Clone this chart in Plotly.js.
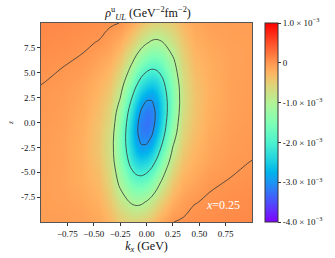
<!DOCTYPE html>
<html>
<head>
<meta charset="utf-8">
<script src="https://cdn.plot.ly/plotly-3.0.1.min.js"></script>
<style>html,body{margin:0;padding:0;background:#fff;}#plot{width:335px;height:258px;}</style>
</head>
<body>
<div id="plot"></div>
<script>
// kx grid (GeV)
var kx = [-1, -0.8, -0.6, -0.45, -0.35, -0.25, -0.15, -0.1, -0.05, 0, 0.05, 0.1, 0.15, 0.25, 0.35, 0.45, 0.6, 0.8, 1];
// z grid
var zt = [-10, -8, -6, -4, -3, -2, -1, 0, 1, 2, 3, 4, 6, 8, 10];
// rho values in units of 1e-3 GeV^-2 fm^-2, one row per z value
var rhoRows = [
  [-0.07,-0.07,-0.09,-0.15,-0.27,-0.45,-0.56,-0.56,-0.52,-0.45,-0.35,-0.24,-0.15,-0.003,0.025,0.045,0.065,0.09,0.10],
  [-0.08,-0.09,-0.14,-0.23,-0.43,-0.76,-1.03,-1.09,-1.07,-0.97,-0.82,-0.64,-0.47,-0.20,-0.08,-0.008,0.02,0.05,0.07],
  [-0.07,-0.11,-0.19,-0.31,-0.59,-1.11,-1.61,-1.74,-1.76,-1.66,-1.46,-1.19,-0.91,-0.44,-0.22,-0.13,-0.02,0.01,0.03],
  [-0.06,-0.10,-0.21,-0.38,-0.70,-1.38,-2.14,-2.40,-2.50,-2.41,-2.20,-1.86,-1.46,-0.73,-0.37,-0.23,-0.11,-0.03,0.005],
  [-0.06,-0.10,-0.22,-0.41,-0.73,-1.46,-2.33,-2.66,-2.83,-2.77,-2.56,-2.19,-1.75,-0.90,-0.45,-0.27,-0.13,-0.05,-0.02],
  [-0.05,-0.10,-0.21,-0.41,-0.73,-1.49,-2.45,-2.84,-3.04,-3.05,-2.87,-2.49,-2.02,-1.07,-0.52,-0.31,-0.15,-0.06,-0.02],
  [-0.05,-0.09,-0.20,-0.40,-0.70,-1.45,-2.48,-2.91,-3.16,-3.21,-3.06,-2.73,-2.25,-1.24,-0.59,-0.35,-0.17,-0.07,-0.03],
  [-0.04,-0.08,-0.19,-0.38,-0.64,-1.36,-2.40,-2.87,-3.16,-3.26,-3.16,-2.87,-2.40,-1.36,-0.64,-0.38,-0.19,-0.08,-0.04],
  [-0.03,-0.07,-0.17,-0.35,-0.59,-1.24,-2.25,-2.73,-3.06,-3.21,-3.16,-2.91,-2.48,-1.45,-0.70,-0.40,-0.20,-0.09,-0.05],
  [-0.02,-0.06,-0.15,-0.31,-0.52,-1.07,-2.02,-2.49,-2.87,-3.05,-3.04,-2.84,-2.45,-1.49,-0.73,-0.41,-0.21,-0.10,-0.05],
  [-0.02,-0.05,-0.13,-0.27,-0.45,-0.90,-1.75,-2.19,-2.56,-2.77,-2.83,-2.66,-2.33,-1.46,-0.73,-0.41,-0.22,-0.10,-0.06],
  [0.005,-0.03,-0.11,-0.23,-0.37,-0.73,-1.46,-1.86,-2.20,-2.41,-2.50,-2.40,-2.14,-1.38,-0.70,-0.38,-0.21,-0.10,-0.06],
  [0.03,0.01,-0.02,-0.13,-0.22,-0.44,-0.91,-1.19,-1.46,-1.66,-1.76,-1.74,-1.61,-1.11,-0.59,-0.31,-0.19,-0.11,-0.07],
  [0.07,0.05,0.02,-0.008,-0.08,-0.20,-0.47,-0.64,-0.82,-0.97,-1.07,-1.09,-1.03,-0.76,-0.43,-0.23,-0.14,-0.09,-0.08],
  [0.10,0.09,0.065,0.045,0.025,-0.003,-0.15,-0.24,-0.35,-0.45,-0.52,-0.56,-0.56,-0.45,-0.27,-0.15,-0.09,-0.07,-0.07]
];
var xTicks = [-0.75, -0.5, -0.25, 0, 0.25, 0.5, 0.75];
var xTickText = ['\u22120.75', '\u22120.50', '\u22120.25', '0.00', '0.25', '0.50', '0.75'];
var yTicks = [-7.5, -5, -2.5, 0, 2.5, 5, 7.5];
var yTickText = ['-7.5', '-5.0', '-2.5', '0.0', '2.5', '5.0', '7.5'];
var cbTicks = [1, 0, -1, -2, -3, -4];
var cbTickText = ['1.0 \u00d7 10<sup>\u22123</sup>', '0', '-1.0 \u00d7 10<sup>\u22123</sup>', '-2.0 \u00d7 10<sup>\u22123</sup>', '-3.0 \u00d7 10<sup>\u22123</sup>', '-4.0 \u00d7 10<sup>\u22123</sup>'];

var rainbow = [
  [0, 'rgb(128,0,255)'], [0.1, 'rgb(77,79,252)'], [0.2, 'rgb(26,150,242)'], [0.25, 'rgb(0,180,236)'],
  [0.3, 'rgb(26,206,227)'], [0.4, 'rgb(77,243,206)'], [0.5, 'rgb(128,255,180)'], [0.6, 'rgb(179,243,150)'],
  [0.7, 'rgb(230,206,116)'], [0.75, 'rgb(255,180,98)'], [0.8, 'rgb(255,150,79)'], [0.9, 'rgb(255,79,40)'],
  [1, 'rgb(255,0,0)']
];
var serif = 'Liberation Serif, DejaVu Serif, serif';

var heat = {
  type: 'heatmap', x: kx, y: zt, z: rhoRows, zsmooth: 'best',
  zmin: -4, zmax: 1, colorscale: rainbow, hoverinfo: 'skip',
  colorbar: {
    x: 1.061, xanchor: 'left', xpad: 0, ypad: 0, y: 0.5, yanchor: 'middle',
    len: 1, lenmode: 'fraction', thickness: 13,
    outlinewidth: 1, outlinecolor: '#333',
    tickmode: 'array', tickvals: cbTicks, ticktext: cbTickText,
    ticks: 'outside', ticklen: 3, tickcolor: '#333',
    tickfont: {family: serif, size: 9, color: '#111'}
  }
};
var cont = {
  type: 'contour', x: kx, y: zt, z: rhoRows, showscale: false,
  contours: {start: -3, end: 0, size: 1, coloring: 'none', showlines: true},
  line: {color: '#333', width: 0.8, smoothing: 1}, hoverinfo: 'skip'
};

var layout = {
  width: 335, height: 258,
  margin: {l: 41, r: 81, t: 23, b: 36},
  paper_bgcolor: '#fff', plot_bgcolor: '#fff',
  font: {family: serif, color: '#111'},
  showlegend: false,
  title: {
    text: '<i>\u03c1</i><sup>u</sup><sub><i>UL</i></sub> (GeV<sup>\u22122</sup>fm<sup>\u22122</sup>)',
    font: {family: serif, size: 12, color: '#111'},
    x: 0.305, xref: 'paper', xanchor: 'left', y: 0.95, yref: 'container', yanchor: 'middle'
  },
  xaxis: {
    range: [-1, 1], tickmode: 'array', tickvals: xTicks, ticktext: xTickText,
    ticks: 'outside', ticklen: 3, tickcolor: '#333', tickfont: {family: serif, size: 9, color: '#111'},
    showline: true, mirror: true, linecolor: '#555', linewidth: 1, showgrid: false, zeroline: false,
    title: {text: '<i>k</i><sub><i>x</i></sub> (GeV)', font: {family: serif, size: 12, color: '#111'}, standoff: 3}
  },
  yaxis: {
    range: [-10, 10], tickmode: 'array', tickvals: yTicks, ticktext: yTickText,
    ticks: 'outside', ticklen: 3, tickcolor: '#333', tickfont: {family: serif, size: 9, color: '#111'},
    showline: true, mirror: true, linecolor: '#555', linewidth: 1, showgrid: false, zeroline: false,
    title: {text: '<i>z\u0303</i>', font: {family: serif, size: 7, color: '#111'}, standoff: 6}
  },
  annotations: [{
    text: '<i>x</i>=0.25', xref: 'paper', yref: 'paper', x: 0.864, y: 0.085,
    xanchor: 'center', yanchor: 'middle', showarrow: false,
    font: {family: serif, size: 12, color: '#fff'}
  }]
};
Plotly.newPlot('plot', [heat, cont], layout, {staticPlot: true, displayModeBar: false});
</script>
</body>
</html>
